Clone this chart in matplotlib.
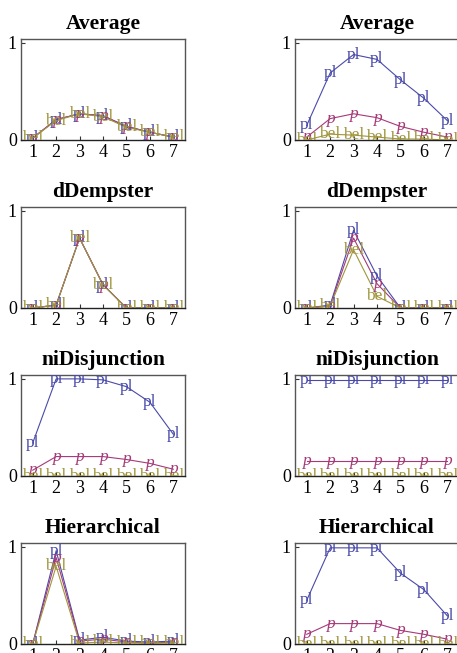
import matplotlib
matplotlib.use("Agg")
import matplotlib.pyplot as plt

plt.rcParams['font.family'] = ['Liberation Serif', 'DejaVu Serif']

x = [1, 2, 3, 4, 5, 6, 7]
titles = ["Average", "Average", "dDempster", "dDempster",
          "niDisjunction", "niDisjunction", "Hierarchical", "Hierarchical"]

pl_avg_l = [0.02, 0.21, 0.27, 0.25, 0.14, 0.08, 0.03]
p_avg_l = [0.02, 0.21, 0.27, 0.25, 0.14, 0.08, 0.03]
bel_avg_l = [0.02, 0.2, 0.27, 0.24, 0.13, 0.08, 0.03]

pl_avg_r = [0.15, 0.69, 0.88, 0.83, 0.62, 0.43, 0.2]
p_avg_r = [0.03, 0.22, 0.27, 0.23, 0.14, 0.08, 0.03]
bel_avg_r = [0.0, 0.06, 0.05, 0.03, 0.01, 0.01, 0.0]

pl_dd_l = [0.0, 0.03, 0.72, 0.24, 0.0, 0.0, 0.0]
p_dd_l = [0.0, 0.03, 0.72, 0.24, 0.0, 0.0, 0.0]
bel_dd_l = [0.0, 0.03, 0.72, 0.24, 0.0, 0.0, 0.0]

pl_dd_r = [0.0, 0.03, 0.8, 0.33, 0.0, 0.0, 0.0]
p_dd_r = [0.0, 0.02, 0.72, 0.25, 0.0, 0.0, 0.0]
bel_dd_r = [0.0, 0.02, 0.6, 0.12, 0.0, 0.0, 0.0]

pl_nd_l = [0.34, 1.0, 1.0, 0.99, 0.92, 0.76, 0.43]
p_nd_l = [0.06, 0.2, 0.2, 0.2, 0.17, 0.13, 0.07]
bel_nd_l = [0.0, 0.0, 0.0, 0.0, 0.0, 0.0, 0.0]

pl_nd_r = [0.99, 0.99, 0.99, 0.99, 0.99, 0.99, 0.99]
p_nd_r = [0.15, 0.15, 0.15, 0.15, 0.15, 0.15, 0.15]
bel_nd_r = [0.0, 0.0, 0.0, 0.0, 0.0, 0.0, 0.0]

pl_h_l = [0.0, 0.96, 0.04, 0.07, 0.03, 0.02, 0.03]
p_h_l = [0.0, 0.89, 0.03, 0.05, 0.02, 0.01, 0.02]
bel_h_l = [0.0, 0.8, 0.01, 0.02, 0.01, 0.01, 0.01]

pl_h_r = [0.45, 0.99, 0.99, 0.99, 0.73, 0.56, 0.29]
p_h_r = [0.1, 0.21, 0.21, 0.21, 0.14, 0.1, 0.05]
bel_h_r = [0.0, 0.0, 0.0, 0.0, 0.0, 0.0, 0.0]

panels = [
    (pl_avg_l, p_avg_l, bel_avg_l), (pl_avg_r, p_avg_r, bel_avg_r),
    (pl_dd_l, p_dd_l, bel_dd_l), (pl_dd_r, p_dd_r, bel_dd_r),
    (pl_nd_l, p_nd_l, bel_nd_l), (pl_nd_r, p_nd_r, bel_nd_r),
    (pl_h_l, p_h_l, bel_h_l), (pl_h_r, p_h_r, bel_h_r),
]

labels = ["pl", "p", "bel"]
colors = ["#4a4aaa", "#a63a78", "#a0963c"]
styles = ["normal", "italic", "normal"]

W, H = 457, 653
fig = plt.figure(figsize=(W / 100, H / 100), dpi=100)

lefts = [21, 295]
tops = [39, 207, 375, 543]
aw, ah = 164, 101

for i, (series, title) in enumerate(zip(panels, titles)):
    r, c = divmod(i, 2)
    l = lefts[c]
    t = tops[r]
    ax = fig.add_axes([l / W, 1 - (t + ah) / H, aw / W, ah / H])
    for ys, lab, col, sty in zip(series, labels, colors, styles):
        ax.plot(x, ys, color=col, lw=0.8)
        for xi, yi in zip(x, ys):
            ax.text(xi, yi, lab, color=col, fontsize=12.5, style=sty,
                    ha="center", va="center", clip_on=True)
    ax.set_xlim(0.5, 7.5)
    ax.set_ylim(0, 1.04)
    ax.set_xticks(x)
    ax.set_yticks([0, 1])
    ax.set_yticklabels(["0", "1"])
    ax.tick_params(direction="in", length=3, width=0.8, labelsize=13,
                   colors="#333333", labelcolor="black", pad=3)
    for s in ax.spines.values():
        s.set_color("#555555")
        s.set_linewidth(1.0)
    ax.spines["bottom"].set_color("#222222")
    ax.set_title(title, fontsize=15.5, fontweight="bold", pad=7)

fig.savefig("out.png", dpi=100)
